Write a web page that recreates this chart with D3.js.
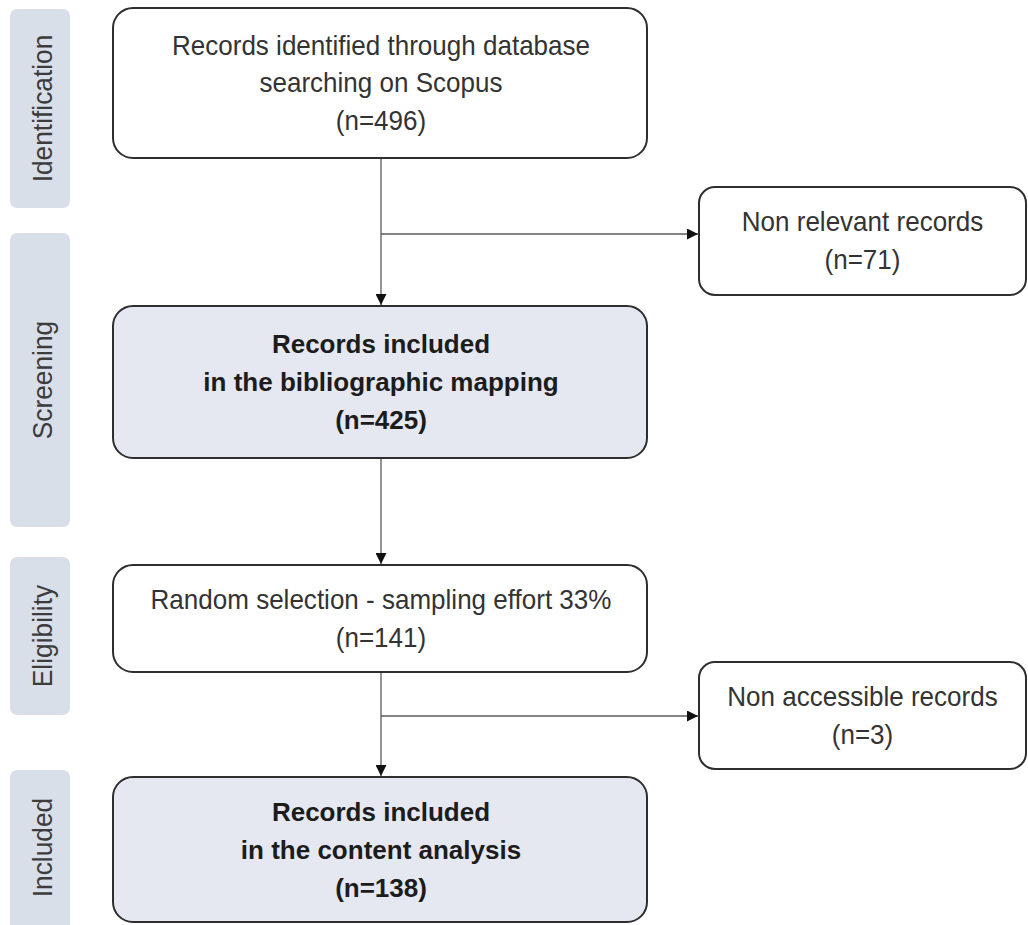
<!DOCTYPE html>
<html>
<head>
<meta charset="utf-8">
<script src="https://cdn.jsdelivr.net/npm/d3@7"></script>
<style>
  html, body { margin: 0; padding: 0; background: #fff; }
  svg { display: block; }
</style>
</head>
<body>
<svg id="chart" width="1028" height="925"></svg>
<script>
// ---- data ----
const stages = ["Identification", "Screening", "Eligibility", "Included"];
const mainLines = [
  ["Records identified through database", "searching on Scopus"],
  ["Records included", "in the bibliographic mapping"],
  ["Random selection - sampling effort 33%"],
  ["Records included", "in the content analysis"]
];
const mainCounts = [496, 425, 141, 138];
const mainBold = [false, true, false, true];
const sideLines = [["Non relevant records"], ["Non accessible records"]];
const sideCounts = [71, 3];

// ---- layout ----
const svg = d3.select("#chart");
const FONT = "'Liberation Sans', Arial, sans-serif";
const NARROW = 0.93;   // condensed look of the original (Arial Narrow-like)

const tabs = [
  {y0: 9, y1: 208}, {y0: 233, y1: 527}, {y0: 557, y1: 715}, {y0: 770, y1: 935}
];
const mainGeo = [
  {y0: 8, y1: 158}, {y0: 306, y1: 458}, {y0: 565, y1: 672}, {y0: 777, y1: 922}
];
const sideGeo = [
  {y0: 187, y1: 295, branchY: 234}, {y0: 662, y1: 769, branchY: 716}
];
const mainX0 = 113, mainX1 = 647, cx = 381;
const sideX0 = 699, sideX1 = 1026;

const defs = svg.append("defs");
defs.append("marker")
  .attr("id", "arrow").attr("viewBox", "0 0 10 10")
  .attr("refX", 10).attr("refY", 5)
  .attr("markerWidth", 12).attr("markerHeight", 11)
  .attr("markerUnits", "userSpaceOnUse")
  .attr("orient", "auto")
  .append("path").attr("d", "M0,0 L10,5 L0,10 Z").attr("fill", "#111");

// helper: text lines centered at (x, mid)
function textBlock(g, lines, x, mid, lh, opts) {
  const start = mid - (lines.length - 1) * lh / 2;
  g.selectAll("g.tl").data(lines).join("g")
    .attr("class", "tl")
    .attr("transform", (d, k) => `translate(${x},${start + k * lh}) scale(${opts.sx},1)`)
    .append("text")
    .attr("text-anchor", "middle")
    .attr("dominant-baseline", "central")
    .attr("font-family", FONT)
    .attr("font-size", opts.size)
    .attr("font-weight", opts.bold ? "bold" : "normal")
    .attr("fill", opts.fill)
    .text(d => d);
}

// stage tabs
const tabG = svg.append("g").selectAll("g").data(stages).join("g");
tabG.append("rect")
  .attr("x", 10).attr("width", 60)
  .attr("y", (d, i) => tabs[i].y0)
  .attr("height", (d, i) => tabs[i].y1 - tabs[i].y0)
  .attr("rx", 7)
  .attr("fill", "#d9dfe9");
tabG.append("text")
  .attr("transform", (d, i) => `translate(42,${(tabs[i].y0 + Math.min(tabs[i].y1, 925)) / 2}) rotate(-90) scale(0.94,1)`)
  .attr("text-anchor", "middle")
  .attr("dominant-baseline", "central")
  .attr("font-family", FONT)
  .attr("font-size", 28)
  .attr("fill", "#3c3c3c")
  .text(d => d);

// connectors
const conn = svg.append("g").attr("stroke", "#5a5a5a").attr("stroke-width", 1.3).attr("fill", "none");
for (let i = 0; i < mainGeo.length - 1; i++) {
  conn.append("line")
    .attr("x1", cx).attr("x2", cx)
    .attr("y1", mainGeo[i].y1).attr("y2", mainGeo[i + 1].y0 - 1)
    .attr("marker-end", "url(#arrow)");
}
sideGeo.forEach(s => {
  conn.append("line")
    .attr("x1", cx).attr("x2", sideX0 - 1)
    .attr("y1", s.branchY).attr("y2", s.branchY)
    .attr("marker-end", "url(#arrow)");
});

// main boxes
const mainG = svg.append("g").selectAll("g").data(mainLines).join("g");
mainG.append("rect")
  .attr("x", mainX0).attr("width", mainX1 - mainX0)
  .attr("y", (d, i) => mainGeo[i].y0)
  .attr("height", (d, i) => mainGeo[i].y1 - mainGeo[i].y0)
  .attr("rx", 20)
  .attr("fill", (d, i) => mainBold[i] ? "#e5e8f0" : "#ffffff")
  .attr("stroke", "#2e2e2e")
  .attr("stroke-width", 2);

mainG.each(function (lines, i) {
  const all = lines.concat([`(n=${mainCounts[i]})`]);
  const mid = (mainGeo[i].y0 + mainGeo[i].y1) / 2;
  textBlock(d3.select(this), all, cx, mid, mainBold[i] ? 38 : 37.5,
    mainBold[i]
      ? {size: 26, bold: true, sx: 1, fill: "#1c1c1c"}
      : {size: 28, bold: false, sx: NARROW, fill: "#333"});
});

// side boxes
const sideG = svg.append("g").selectAll("g").data(sideLines).join("g");
sideG.append("rect")
  .attr("x", sideX0).attr("width", sideX1 - sideX0)
  .attr("y", (d, i) => sideGeo[i].y0)
  .attr("height", (d, i) => sideGeo[i].y1 - sideGeo[i].y0)
  .attr("rx", 16)
  .attr("fill", "#fff")
  .attr("stroke", "#2e2e2e")
  .attr("stroke-width", 2);
sideG.each(function (lines, i) {
  const all = lines.concat([`(n=${sideCounts[i]})`]);
  const mid = (sideGeo[i].y0 + sideGeo[i].y1) / 2;
  textBlock(d3.select(this), all, (sideX0 + sideX1) / 2, mid, 38,
    {size: 28, bold: false, sx: NARROW, fill: "#333"});
});
</script>
</body>
</html>
